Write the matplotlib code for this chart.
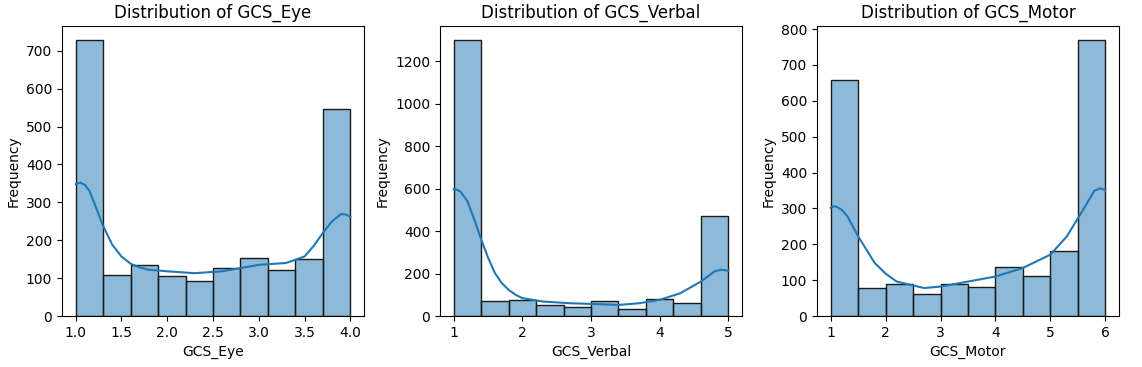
import matplotlib
matplotlib.use("Agg")
import matplotlib.pyplot as plt
from matplotlib.colors import to_rgba

# bin counts (10 equal bins per score)
eye_range = (1.0, 4.0)
eye_counts = [729, 107, 134, 105, 93, 128, 153, 121, 150, 547]
verbal_range = (1.0, 5.0)
verbal_counts = [1300, 69, 74, 52, 43, 69, 32, 82, 62, 470]
motor_range = (1.0, 6.0)
motor_counts = [657, 79, 88, 61, 88, 81, 138, 111, 180, 770]

# density curve, points (x, scaled count)
eye_kde_x = [1.0, 1.05, 1.1, 1.15, 1.2, 1.3, 1.4, 1.5, 1.6, 1.7, 1.8, 2.0, 2.3, 2.6, 3.0, 3.3, 3.5, 3.6, 3.7, 3.8, 3.9, 3.95, 4.0]
eye_kde_y = [348, 352, 346, 330, 300, 237, 188, 157, 138, 128, 122, 118, 113, 118, 135, 140, 157, 185, 219, 250, 269, 268, 262]
verbal_kde_x = [1.0, 1.05, 1.1, 1.2, 1.3, 1.4, 1.5, 1.6, 1.7, 1.8, 1.9, 2.0, 2.3, 2.7, 3.0, 3.4, 3.7, 4.0, 4.3, 4.6, 4.8, 4.9, 5.0]
verbal_kde_y = [596, 594, 585, 540, 454, 360, 275, 202, 155, 123, 100, 84, 68, 60, 57, 52, 60, 76, 107, 162, 210, 218, 213]
motor_kde_x = [1.0, 1.05, 1.1, 1.2, 1.3, 1.5, 1.8, 2.0, 2.2, 2.7, 3.0, 3.5, 4.0, 4.5, 5.0, 5.3, 5.6, 5.8, 5.9, 6.0]
motor_kde_y = [302, 306, 305, 296, 279, 222, 148, 118, 96, 78, 82, 96, 110, 134, 171, 222, 297, 349, 356, 351]

columns = ["GCS_Eye", "GCS_Verbal", "GCS_Motor"]
ranges = [eye_range, verbal_range, motor_range]
counts = [eye_counts, verbal_counts, motor_counts]
kde_xs = [eye_kde_x, verbal_kde_x, motor_kde_x]
kde_ys = [eye_kde_y, verbal_kde_y, motor_kde_y]

fig = plt.figure(figsize=(11.42, 3.67), dpi=100)
lefts = [62, 440, 817]
face = to_rgba("#1f77b4", 0.5)

for i in range(3):
    ax = fig.add_axes([lefts[i] / 1142, 51 / 367, 302 / 1142, 290 / 367])
    lo, hi = ranges[i]
    n = len(counts[i])
    w = (hi - lo) / n
    edges = [lo + k * w for k in range(n)]
    ax.bar(edges, counts[i], width=w, align="edge", facecolor=face,
           edgecolor="#1a1a1a", linewidth=1.0)
    ax.plot(kde_xs[i], kde_ys[i], color="#1f77b4", linewidth=1.5)
    ax.set_title("Distribution of " + columns[i], fontsize=12)
    ax.set_xlabel(columns[i])
    ax.set_ylabel("Frequency")

fig.savefig("out.png", dpi=100)
